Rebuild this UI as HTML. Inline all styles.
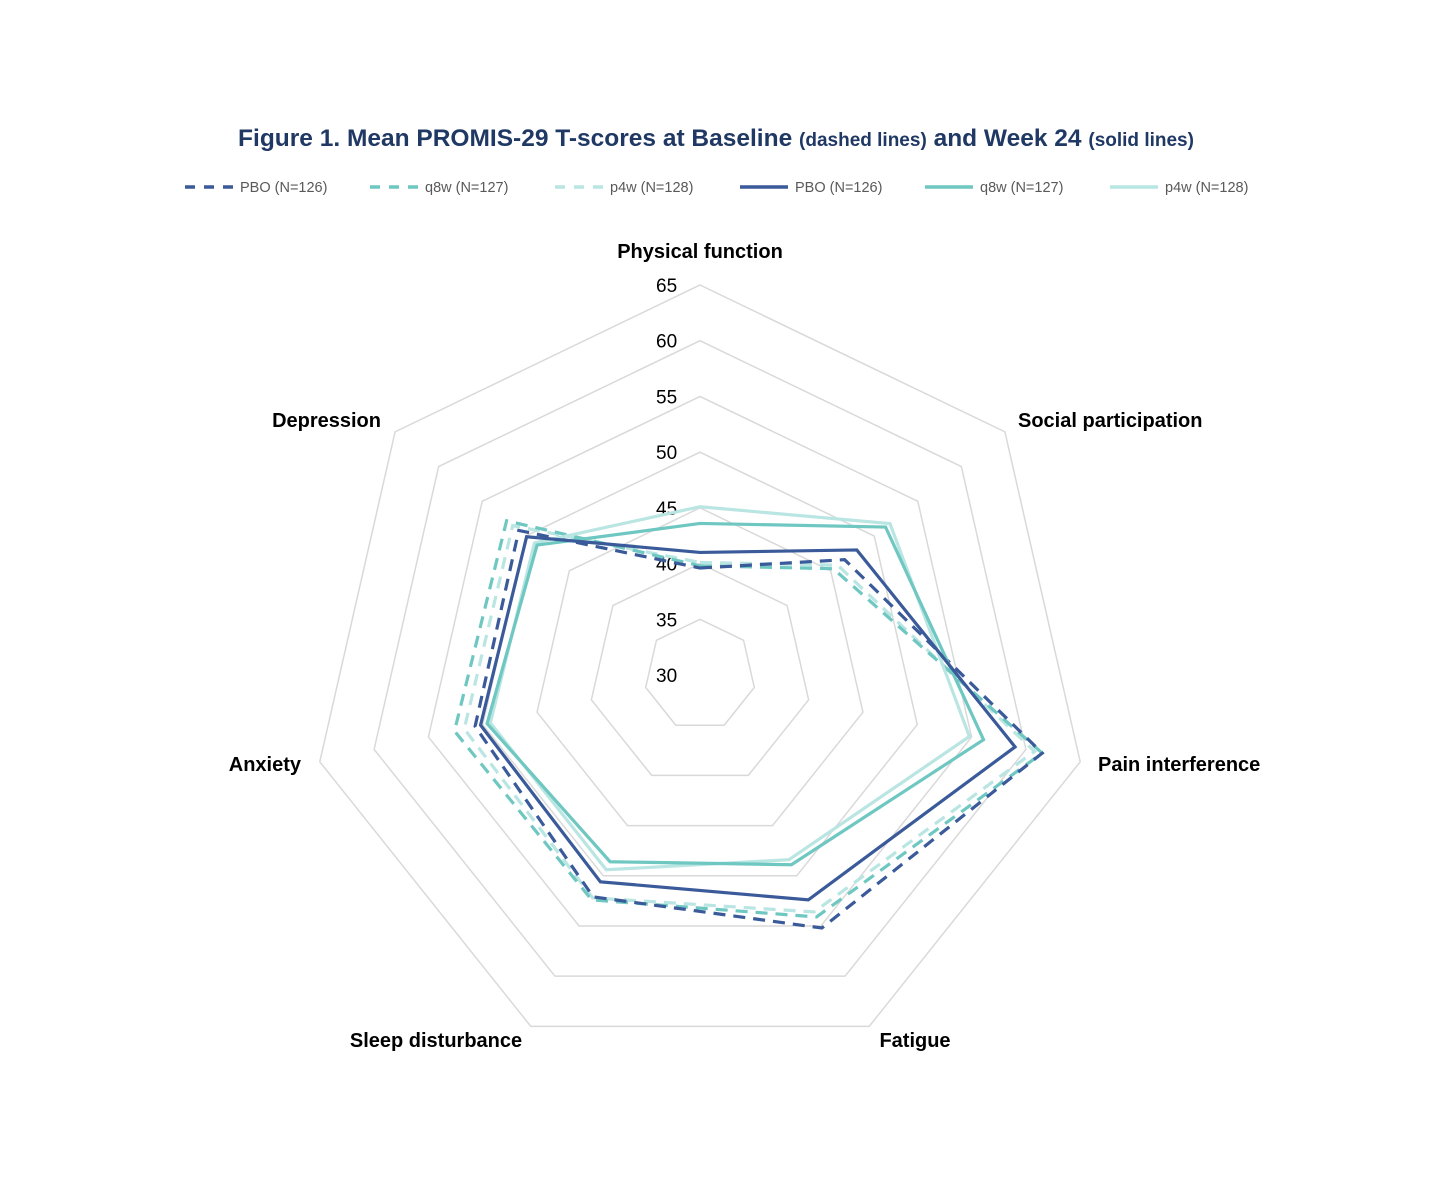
<!DOCTYPE html>
<html><head><meta charset="utf-8"><style>
html,body{margin:0;padding:0;background:#fff;}
svg{display:block;font-family:"Liberation Sans",sans-serif;}
</style></head><body>
<svg id="chart" width="1451" height="1204" viewBox="0 0 1451 1204">
<text x="716" y="146" text-anchor="middle" fill="#1f3864" font-weight="bold" font-size="24.5">Figure 1. Mean PROMIS-29 T-scores at Baseline <tspan font-size="19">(dashed lines)</tspan> and Week 24 <tspan font-size="19">(solid lines)</tspan></text>
<g id="legend"></g>
<g id="grid"></g>
<g id="series"></g>
<g id="labels"></g>
</svg>
<script>
const categories=["Physical function","Social participation","Pain interference","Fatigue","Sleep disturbance","Anxiety","Depression"];
const ticks=[30,35,40,45,50,55,60,65];
const seriesNames=["PBO (N=126)","q8w (N=127)","p4w (N=128)","PBO (N=126)","q8w (N=127)","p4w (N=128)"];
const basePBO=[39.6,46.6,61.5,55.2,52.1,50.7,50.8];
const baseQ8w=[39.8,45.3,61.5,54.1,52.4,52.6,52.2];
const baseP4w=[40.1,45.8,60.8,53.6,52.2,51.7,51.5];
const wk24PBO=[41.0,48.0,59.0,52.4,50.6,50.2,49.9];
const wk24Q8w=[43.6,51.3,56.1,48.9,48.6,49.6,48.7];
const wk24P4w=[45.1,51.8,54.8,48.4,49.4,49.3,49.0];

const NS="http://www.w3.org/2000/svg";
const cx=700,cy=675,R=390,vmin=30,vmax=65;
function rad(v){return (v-vmin)/(vmax-vmin)*R;}
function ang(i){return i*2*Math.PI/categories.length;}
function pt(i,v){const r=rad(v),a=ang(i);return [cx+r*Math.sin(a),cy-r*Math.cos(a)];}
function mk(tag,attrs,parent){const e=document.createElementNS(NS,tag);for(const k in attrs)e.setAttribute(k,attrs[k]);parent.appendChild(e);return e;}
const grid=document.getElementById('grid');
ticks.forEach(t=>{
  if(t>vmin){
    const pts=categories.map((c,i)=>pt(i,t).join(',')).join(' ');
    const p=mk('polygon',{points:pts,fill:'none',stroke:'#d9d9d9','stroke-width':1.5},grid);
    
    
  }
  const tx=mk('text',{x:cx-44,y:cy-rad(t)+7,'font-size':19,fill:'#000'},grid);
  tx.textContent=t;
  
  
});
const colors=["#3a5a9a","#6fc7c1","#b9e5e2"];
const allSeries=[basePBO,baseQ8w,baseP4w,wk24PBO,wk24Q8w,wk24P4w];
const sg=document.getElementById('series');
const order=[2,1,0,5,4,3];
order.forEach(k=>{
  const d=allSeries[k];
  const pts=d.map((v,i)=>pt(i,v).join(',')).join(' ');
  const attrs={points:pts,fill:'none',stroke:colors[k%3],'stroke-width':3.2,'stroke-linejoin':'miter'};
  if(k<3)attrs['stroke-dasharray']='12 8';
  const p=mk('polygon',attrs,sg);
  
  
});
const labelPos=[[700,258,'middle'],[1018,427,'start'],[1098,771,'start'],[915,1047,'middle'],[436,1047,'middle'],[301,771,'end'],[381,427,'end']];
const lg=document.getElementById('labels');
categories.forEach((c,i)=>{
  const t=mk('text',{x:labelPos[i][0],y:labelPos[i][1],'text-anchor':labelPos[i][2],'font-size':20,'font-weight':'bold',fill:'#000'},lg);
  t.textContent=c;
  
  
});
const legendX=[185,370,555,740,925,1110];
const leg=document.getElementById('legend');
seriesNames.forEach((n,k)=>{
  const g=mk('g',{},leg);
  
  
  const la={x1:legendX[k],y1:187,x2:legendX[k]+48,y2:187,stroke:colors[k%3],'stroke-width':3.5};
  if(k<3)la['stroke-dasharray']='10 9';
  mk('line',la,g);
  const t=mk('text',{x:legendX[k]+55,y:192,'font-size':14.5,fill:'#595959'},g);
  t.textContent=n;
});
</script>
</body></html>
